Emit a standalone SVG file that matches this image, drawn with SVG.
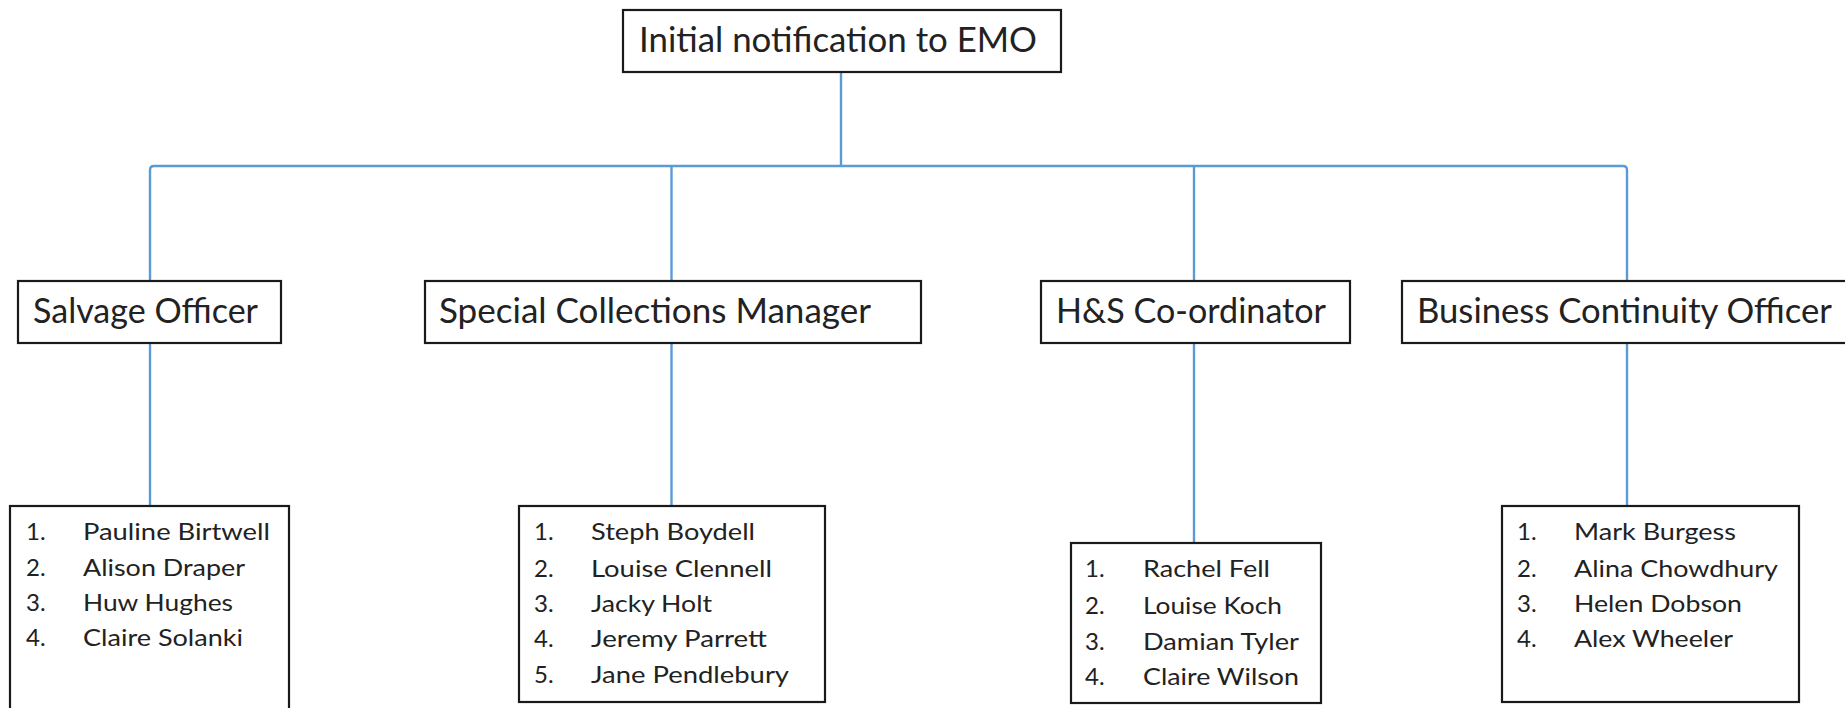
<svg xmlns="http://www.w3.org/2000/svg" width="1845" height="708" viewBox="0 0 1845 708">
<style>
.box{fill:#fff;stroke:#1a1a1a;stroke-width:2.2}
.conn{fill:none;stroke:#5b9bd5;stroke-width:2.4}
.t{font-family:Lato,"Liberation Sans",sans-serif;fill:#222;}
.h{font-size:34px}
.n{font-size:24px}
</style>
<rect width="1845" height="708" fill="#fff"/>
<g id="connectors">
<path class="conn" d="M841,72 V166"/>
<path class="conn" d="M150,281 V170 Q150,166 154,166 H1623 Q1627,166 1627,170 V281"/>
<path class="conn" d="M671.5,166 V281"/>
<path class="conn" d="M1194,166 V281"/>
<path class="conn" d="M150,343 V506"/>
<path class="conn" d="M671.5,343 V506"/>
<path class="conn" d="M1194,343 V543"/>
<path class="conn" d="M1627,343 V506"/>
</g>
<g id="emo">
<rect class="box" x="623" y="10" width="438" height="62"/>
<text class="t h" x="639" y="52" textLength="398" lengthAdjust="spacingAndGlyphs">Initial notification to EMO</text>
</g>
<g id="salvage">
<rect class="box" x="18" y="281" width="263" height="62"/>
<text class="t h" x="33" y="323" textLength="225" lengthAdjust="spacingAndGlyphs">Salvage Officer</text>
</g>
<g id="special">
<rect class="box" x="425" y="281" width="496" height="62"/>
<text class="t h" x="439" y="323" textLength="432" lengthAdjust="spacingAndGlyphs">Special Collections Manager</text>
</g>
<g id="hs">
<rect class="box" x="1041" y="281" width="309" height="62"/>
<text class="t h" x="1056" y="323" textLength="270" lengthAdjust="spacingAndGlyphs">H&amp;S Co-ordinator</text>
</g>
<g id="business">
<rect class="box" x="1402" y="281" width="460" height="62"/>
<text class="t h" x="1417" y="323" textLength="415" lengthAdjust="spacingAndGlyphs">Business Continuity Officer</text>
</g>
<g id="salvage-list">
<rect class="box" x="10" y="506" width="279" height="210"/>
<text class="t n" x="26" y="540">1.</text>
<text class="t n" x="83" y="540" textLength="187" lengthAdjust="spacingAndGlyphs">Pauline Birtwell</text>
<text class="t n" x="26" y="576">2.</text>
<text class="t n" x="83" y="576" textLength="162" lengthAdjust="spacingAndGlyphs">Alison Draper</text>
<text class="t n" x="26" y="611">3.</text>
<text class="t n" x="83" y="611" textLength="150" lengthAdjust="spacingAndGlyphs">Huw Hughes</text>
<text class="t n" x="26" y="646">4.</text>
<text class="t n" x="83" y="646" textLength="160" lengthAdjust="spacingAndGlyphs">Claire Solanki</text>
</g>
<g id="special-list">
<rect class="box" x="519" y="506" width="306" height="196"/>
<text class="t n" x="534" y="540">1.</text>
<text class="t n" x="591" y="540" textLength="164" lengthAdjust="spacingAndGlyphs">Steph Boydell</text>
<text class="t n" x="534" y="576.5">2.</text>
<text class="t n" x="591" y="576.5" textLength="181" lengthAdjust="spacingAndGlyphs">Louise Clennell</text>
<text class="t n" x="534" y="612">3.</text>
<text class="t n" x="591" y="612" textLength="121" lengthAdjust="spacingAndGlyphs">Jacky Holt</text>
<text class="t n" x="534" y="647">4.</text>
<text class="t n" x="591" y="647" textLength="176" lengthAdjust="spacingAndGlyphs">Jeremy Parrett</text>
<text class="t n" x="534" y="683">5.</text>
<text class="t n" x="591" y="683" textLength="198" lengthAdjust="spacingAndGlyphs">Jane Pendlebury</text>
</g>
<g id="hs-list">
<rect class="box" x="1071" y="543" width="250" height="160"/>
<text class="t n" x="1085" y="577">1.</text>
<text class="t n" x="1143" y="577" textLength="127" lengthAdjust="spacingAndGlyphs">Rachel Fell</text>
<text class="t n" x="1085" y="614">2.</text>
<text class="t n" x="1143" y="614" textLength="139" lengthAdjust="spacingAndGlyphs">Louise Koch</text>
<text class="t n" x="1085" y="649.5">3.</text>
<text class="t n" x="1143" y="649.5" textLength="156" lengthAdjust="spacingAndGlyphs">Damian Tyler</text>
<text class="t n" x="1085" y="685">4.</text>
<text class="t n" x="1143" y="685" textLength="156" lengthAdjust="spacingAndGlyphs">Claire Wilson</text>
</g>
<g id="business-list">
<rect class="box" x="1502" y="506" width="297" height="196"/>
<text class="t n" x="1517" y="540">1.</text>
<text class="t n" x="1574" y="540" textLength="162" lengthAdjust="spacingAndGlyphs">Mark Burgess</text>
<text class="t n" x="1517" y="576.5">2.</text>
<text class="t n" x="1574" y="576.5" textLength="204" lengthAdjust="spacingAndGlyphs">Alina Chowdhury</text>
<text class="t n" x="1517" y="612">3.</text>
<text class="t n" x="1574" y="612" textLength="168" lengthAdjust="spacingAndGlyphs">Helen Dobson</text>
<text class="t n" x="1517" y="647">4.</text>
<text class="t n" x="1574" y="647" textLength="159" lengthAdjust="spacingAndGlyphs">Alex Wheeler</text>
</g>
</svg>
